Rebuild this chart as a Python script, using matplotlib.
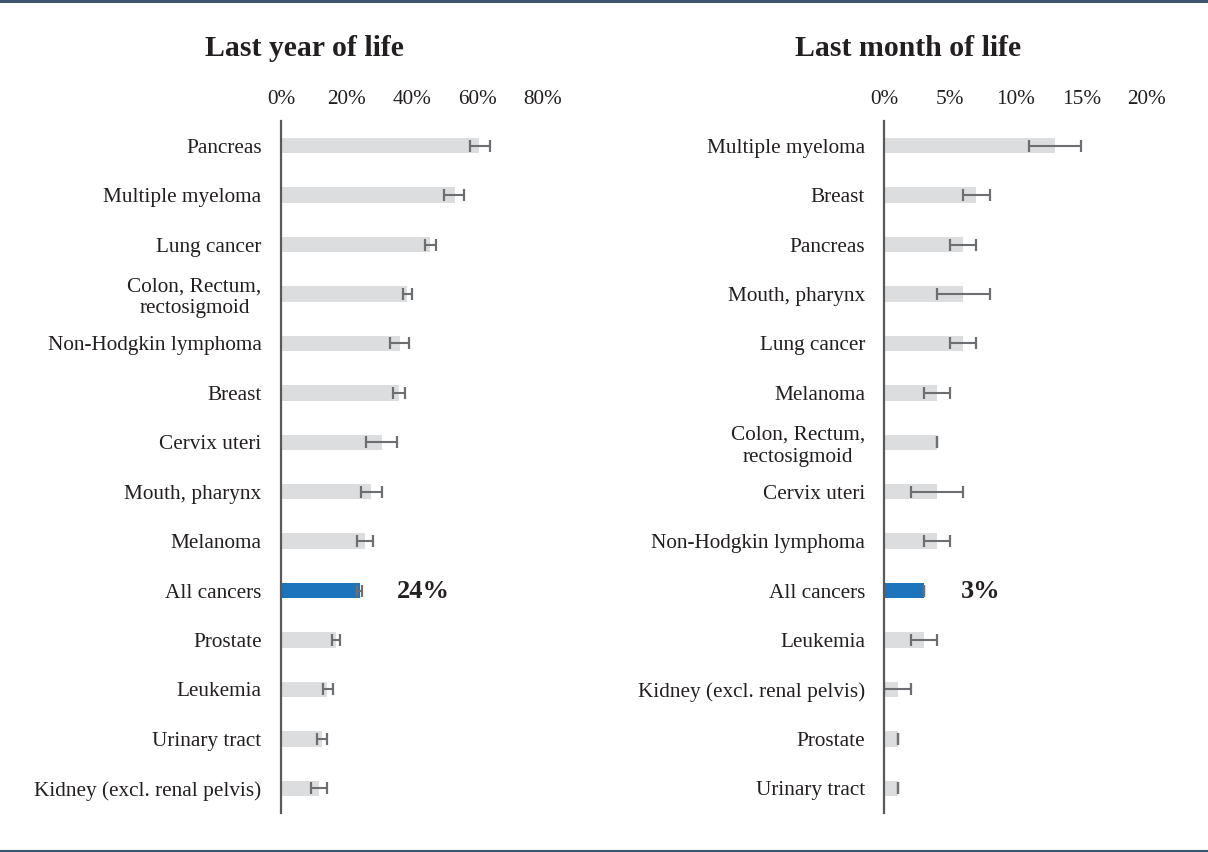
import matplotlib
matplotlib.use("Agg")
import matplotlib.pyplot as plt
from matplotlib.lines import Line2D
from matplotlib.ticker import PercentFormatter

plt.rcParams['font.family'] = ['Liberation Serif', 'DejaVu Serif']

# Last year of life
year_labels = ["Pancreas", "Multiple myeloma", "Lung cancer", "Colon, Rectum,\nrectosigmoid",
               "Non-Hodgkin lymphoma", "Breast", "Cervix uteri", "Mouth, pharynx", "Melanoma",
               "All cancers", "Prostate", "Leukemia", "Urinary tract", "Kidney (excl. renal pelvis)"]
year_values = [60.5, 53, 45.6, 38.6, 36.2, 35.9, 30.7, 27.4, 25.6, 24, 16.7, 14.1, 12.6, 11.5]
year_low = [57.6, 49.7, 44.0, 37.3, 33.4, 34.2, 25.9, 24.3, 23.3, 23.1, 15.7, 12.7, 11.1, 9.1]
year_high = [63.7, 55.9, 47.2, 40.1, 39.1, 37.8, 35.5, 30.9, 28.0, 24.7, 17.9, 15.9, 14.1, 13.9]
year_ticks = [0, 20, 40, 60, 80]

# Last month of life
month_labels = ["Multiple myeloma", "Breast", "Pancreas", "Mouth, pharynx", "Lung cancer",
                "Melanoma", "Colon, Rectum,\nrectosigmoid", "Cervix uteri", "Non-Hodgkin lymphoma",
                "All cancers", "Leukemia", "Kidney (excl. renal pelvis)", "Prostate", "Urinary tract"]
month_values = [13, 7, 6, 6, 6, 4, 4, 4, 4, 3, 3, 1, 1, 1]
month_low = [11, 6, 5, 4, 5, 3, 4, 2, 3, 3, 2, 0, 1, 1]
month_high = [15, 8, 7, 8, 7, 5, 4, 6, 5, 3, 4, 2, 1, 1]
month_ticks = [0, 5, 10, 15, 20]

GREY = "#dcdddf"
BLUE = "#1c75bc"
ERR = "#6d6e71"
TEXT = "#231f20"
RULE = "#3d566e"

W, H = 1208, 852
fig = plt.figure(figsize=(W / 100, H / 100), dpi=100)


def px_axes(x0, x1, y0, y1):
    return fig.add_axes([x0 / W, 1 - y1 / H, (x1 - x0) / W, (y1 - y0) / H])


def panel(ax, labels, values, low, high, ticks, highlight):
    n = len(labels)
    pos = list(range(n))
    colors = [BLUE if lab == highlight else GREY for lab in labels]
    ax.barh(pos, values, height=0.31, color=colors, zorder=1)
    xerr = [[v - lo for v, lo in zip(values, low)], [hi - v for v, hi in zip(values, high)]]
    ax.errorbar(values, pos, xerr=xerr, fmt='none', ecolor=ERR, elinewidth=1.5,
                capsize=4.3, capthick=1.6, zorder=2)
    ax.set_ylim(n - 0.5, -0.5)
    ax.set_xlim(ticks[0], ticks[-1])
    ax.set_yticks(pos)
    ax.set_yticklabels(labels, fontsize=15.3, color=TEXT, linespacing=1.2)
    for t in ax.get_yticklabels():
        t.set_multialignment('center')
    ax.set_xticks(ticks)
    ax.xaxis.set_major_formatter(PercentFormatter(decimals=0))
    ax.xaxis.tick_top()
    ax.tick_params(axis='x', length=0, pad=9, labelsize=15.3, labelcolor=TEXT)
    ax.tick_params(axis='y', length=0, pad=14)
    for s in ['top', 'right', 'bottom']:
        ax.spines[s].set_visible(False)
    ax.spines['left'].set_color('#595959')
    ax.spines['left'].set_linewidth(1.6)
    ax.spines['left'].set_zorder(3)
    i = labels.index(highlight)
    ax.annotate(f"{values[i]:.0f}%", xy=(values[i], i), xytext=(27, -1),
                textcoords='offset points', ha='left', va='center',
                fontsize=19, fontweight='bold', color=TEXT)


ax1 = px_axes(281, 543, 121, 813)
panel(ax1, year_labels, year_values, year_low, year_high, year_ticks, "All cancers")
ax2 = px_axes(884.5, 1147, 121, 813)
panel(ax2, month_labels, month_values, month_low, month_high, month_ticks, "All cancers")

fig.text(304 / W, 1 - 48 / H, "Last year of life", ha='center', va='center',
         fontsize=21.4, fontweight='bold', color=TEXT)
fig.text(908 / W, 1 - 48 / H, "Last month of life", ha='center', va='center',
         fontsize=21.4, fontweight='bold', color=TEXT)

# top and bottom rules
fig.add_artist(Line2D([0, 1], [1 - 1 / H, 1 - 1 / H], color=RULE, lw=2.2, transform=fig.transFigure))
fig.add_artist(Line2D([0, 1], [1.5 / H, 1.5 / H], color=RULE, lw=2.2, transform=fig.transFigure))

fig.savefig("out.png", dpi=100)
